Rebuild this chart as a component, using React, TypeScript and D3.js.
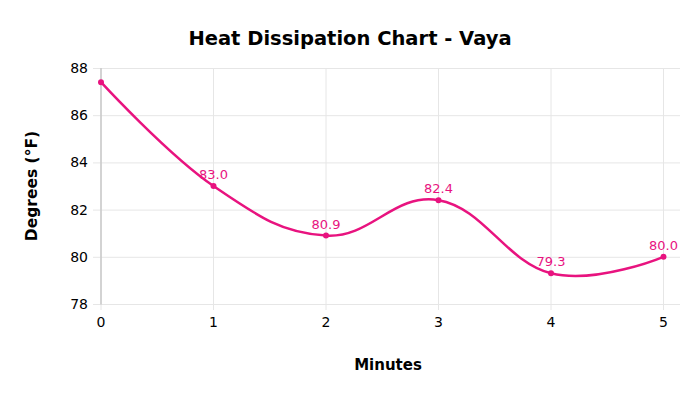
import * as d3 from 'd3';
import React from 'react';

const minutes = [0, 1, 2, 3, 4, 5];
const degrees = [87.4, 83.0, 80.9, 82.4, 79.3, 80.0];
const yTicks = [78, 80, 82, 84, 86, 88];
const lineColor = '#e8137f';

const width = 700;
const height = 394;
const marginTop = 68;
const marginBottom = 90;
const marginLeft = 101;
const plotRight = 680;

const App = () => {
  // x scale maps minutes onto the plot; the grid runs a bit past 5
  const x = d3.scaleLinear().domain([0, 5]).range([marginLeft, 663.5]);
  const y = d3.scaleLinear().domain([78, 88]).range([height - marginBottom, marginTop]);

  const line = d3
    .line<number>()
    .x((_, i) => x(minutes[i]))
    .y((d) => y(d))
    .curve(d3.curveCardinal.tension(-0.2));

  const font = 'DejaVu Sans, Verdana, sans-serif';

  return (
    <svg width={width} height={height} style={{ position: 'absolute', left: 0, top: 0 }}>
      <rect width={width} height={height} fill="#fff" />
      <text x={350} y={45} textAnchor="middle" fontFamily={font} fontWeight="bold" fontSize={19.5}>
        Heat Dissipation Chart - Vaya
      </text>
      {/* grid */}
      <g stroke="#e6e6e6" strokeWidth={1}>
        {yTicks.map((t) => (
          <line key={t} x1={marginLeft - 8} x2={plotRight} y1={y(t) + 0.5} y2={y(t) + 0.5} />
        ))}
        {minutes.map((m) => (
          <line key={m} x1={x(m)} x2={x(m)} y1={marginTop} y2={y(78) + 6} />
        ))}
      </g>
      <line x1={marginLeft} x2={marginLeft} y1={marginTop} y2={y(78) + 0.5} stroke="#c8c8c8" strokeWidth={1.5} />
      <g fontFamily={font} fontSize={14} fill="#000">
        {yTicks.map((t) => (
          <text key={t} x={marginLeft - 13} y={y(t) + 5} textAnchor="end">
            {t}
          </text>
        ))}
        {minutes.map((m) => (
          <text key={m} x={x(m)} y={y(78) + 23} textAnchor="middle">
            {m}
          </text>
        ))}
      </g>
      <text
        transform={`translate(37,${(marginTop + y(78)) / 2}) rotate(-90)`}
        textAnchor="middle"
        fontFamily={font}
        fontWeight="bold"
        fontSize={15.5}
      >
        Degrees (°F)
      </text>
      <text x={388} y={370} textAnchor="middle" fontFamily={font} fontWeight="bold" fontSize={15}>
        Minutes
      </text>
      <path d={line(degrees) ?? ''} fill="none" stroke={lineColor} strokeWidth={2.5} />
      {degrees.map((d, i) => (
        <circle key={i} cx={x(minutes[i])} cy={y(d)} r={3} fill={lineColor} />
      ))}
      <g fontFamily={font} fontSize={13} fill={lineColor} textAnchor="middle">
        {degrees.map((d, i) =>
          i === 0 ? null : (
            <text key={i} x={x(minutes[i])} y={y(d) - 7}>
              {d.toFixed(1)}
            </text>
          )
        )}
      </g>
    </svg>
  );
};

export default App;
